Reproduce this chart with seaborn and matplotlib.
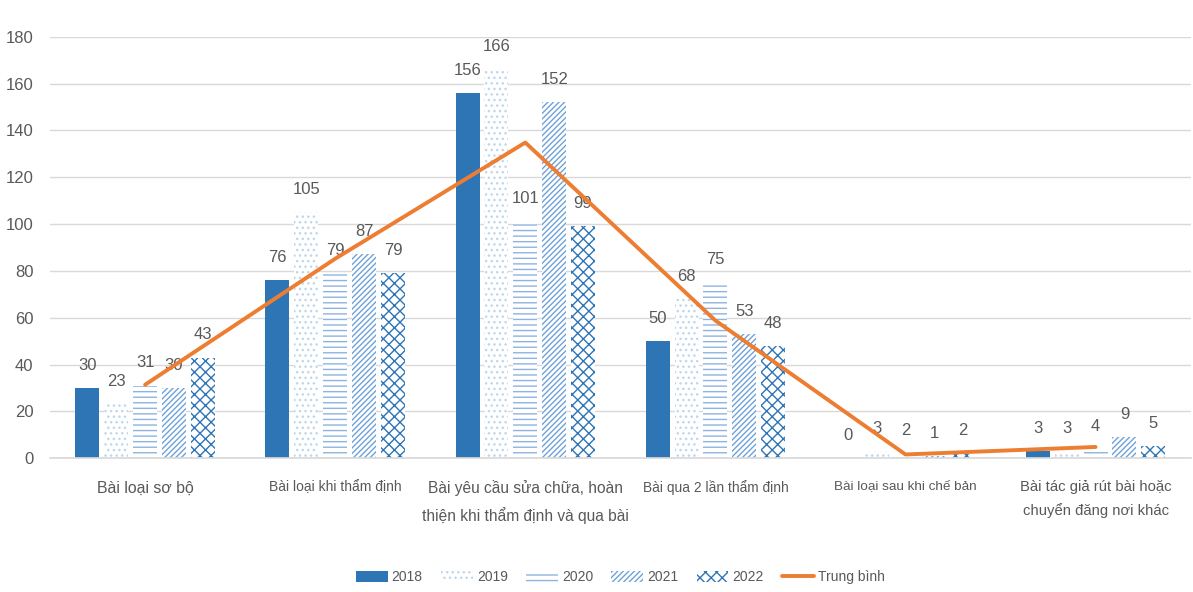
import matplotlib
matplotlib.use("Agg")
import matplotlib.pyplot as plt
import seaborn as sns
import pandas as pd

categories = ["Bài loại sơ bộ", "Bài loại khi thẩm định",
              "Bài yêu cầu sửa chữa, hoàn\nthiện khi thẩm định và qua bài",
              "Bài qua 2 lần thẩm định", "Bài loại sau khi chế bản",
              "Bài tác giả rút bài hoặc\nchuyển đăng nơi khác"]
years = ["2018", "2019", "2020", "2021", "2022"]
v2018 = [30, 76, 156, 50, 0, 3]
v2019 = [23, 105, 166, 68, 3, 3]
v2020 = [31, 79, 101, 75, 2, 4]
v2021 = [30, 87, 152, 53, 1, 9]
v2022 = [43, 79, 99, 48, 2, 5]
trung_binh = [31.4, 85.2, 134.8, 58.8, 1.6, 4.8]

series = [v2018, v2019, v2020, v2021, v2022]
rows = []
for y, vals in zip(years, series):
    for c, v in zip(categories, vals):
        rows.append({"cat": c, "year": y, "value": v})
df = pd.DataFrame(rows)

sns.set_theme(style="white")
plt.rcParams['font.family'] = ['Liberation Sans', 'DejaVu Sans']
plt.rcParams['hatch.linewidth'] = 1.0

blue = "#2E75B6"
grey = "#595959"
hatch_colors = [blue, "#BDD7EE", "#8DB3E2", "#6FA2D8", "#2E75B6"]

fig = plt.figure(figsize=(11.93, 5.92), dpi=100)
ax = fig.add_axes([0.042, 0.226, 0.956, 0.712])

sns.barplot(data=df, x="cat", y="value", hue="year", order=categories,
            hue_order=years, width=0.76, gap=0.17, ax=ax, legend=False,
            palette=[blue] * 5, saturation=1)

hatches = [None, "...", "---", "//////", "xxx"]
for i, cont in enumerate(ax.containers):
    for p in cont:
        if i == 0:
            p.set_facecolor(blue)
            p.set_edgecolor(blue)
            p.set_linewidth(0)
        else:
            p.set_facecolor("white")
            p.set_edgecolor(hatch_colors[i])
            p.set_hatch(hatches[i])
            p.set_linewidth(0)
    ax.bar_label(cont, labels=[str(v) for v in series[i]], padding=11,
                 color=grey, fontsize=12)

line, = ax.plot(range(len(categories)), trung_binh, color="#ED7D31", lw=2.8,
                label="Trung bình", zorder=5)

ax.set_ylim(0, 180)
ax.set_xlim(-0.5, 5.5)
ax.set_yticks(range(0, 181, 20))
ax.yaxis.grid(True, color="#D9D9D9", lw=1)
ax.set_axisbelow(True)
for s in ["top", "right", "left"]:
    ax.spines[s].set_visible(False)
ax.spines["bottom"].set_color("#D9D9D9")
ax.set_xlabel("")
ax.set_ylabel("")
ax.tick_params(axis="y", colors=grey, labelsize=12, length=0, pad=12)
ax.tick_params(axis="x", colors=grey, labelsize=11, length=0, pad=16)
label_sizes = [11.4, 10, 11.2, 9.9, 9.7, 10.7]
for t, fs in zip(ax.get_xticklabels(), label_sizes):
    t.set_fontsize(fs)
    t.set_verticalalignment("top")
    t.set_linespacing(1.75)

handles = list(ax.containers) + [line]
ax.legend(handles, years + ["Trung bình"], loc="center",
          bbox_to_anchor=(0.5, -0.283), ncol=6, frameon=False,
          fontsize=10, labelcolor=grey, handlelength=2.3, handleheight=0.8,
          columnspacing=1.3, handletextpad=0.3)

fig.savefig("out.png", dpi=100)
